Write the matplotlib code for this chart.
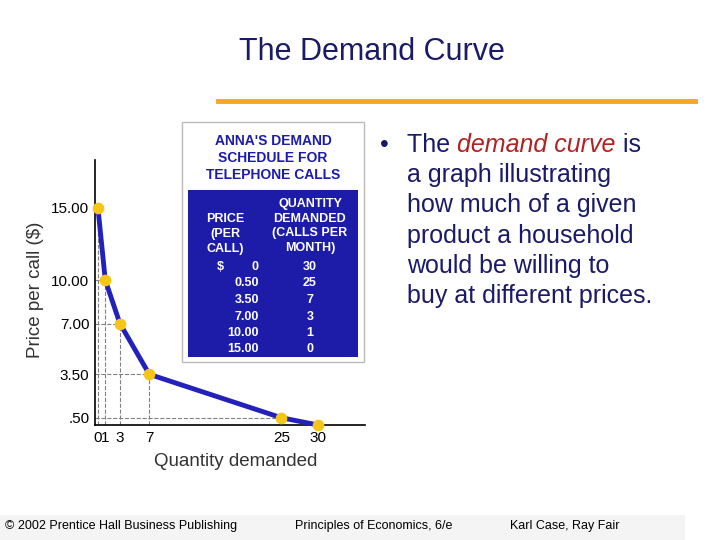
import matplotlib
matplotlib.use("Agg")
import matplotlib.pyplot as plt
from matplotlib.patches import Rectangle

plt.rcParams['font.family'] = ['Liberation Sans', 'DejaVu Sans']

prices = [15.0, 10.0, 7.0, 3.5, 0.5, 0.0]
quantities = [0, 1, 3, 7, 25, 30]
price_labels = ["$        0", "0.50", "3.50", "7.00", "10.00", "15.00"]
qty_labels = ["30", "25", "7", "3", "1", "0"]
yticks = [0.5, 3.5, 7.0, 10.0, 15.0]
ytick_labels = [".50", "3.50", "7.00", "10.00", "15.00"]
xticks = [0, 1, 3, 7, 25, 30]

W, H = 720, 540
fig = plt.figure(figsize=(7.2, 5.4), dpi=100)
fig.patch.set_facecolor("white")
def fx(x): return x / W
def fy(y): return 1 - y / H

fig.text(fx(372), fy(52), "The Demand Curve", ha="center", va="center", fontsize=22, color="#1a1a66")
fig.add_artist(plt.Line2D([fx(218), fx(695)], [fy(101), fy(101)], color="#f5a623", lw=3.5))

# chart axes
ax = fig.add_axes([fx(95), fy(425), fx(365 - 95), (425 - 160) / H])
ax.set_xlim(-0.4, 36.4)
ax.set_ylim(0, 18.3)
for s in ["top", "right"]:
    ax.spines[s].set_visible(False)
ax.spines["left"].set_linewidth(1.2)
ax.spines["bottom"].set_linewidth(1.2)
for q, p in zip(quantities, prices):
    ax.plot([q, q], [0, p], ls="--", color="gray", lw=0.8)
    ax.plot([-0.4, q], [p, p], ls="--", color="gray", lw=0.8)
ax.plot(quantities, prices, color="#2222bb", lw=3.5, clip_on=False, zorder=3)
ax.scatter(quantities, prices, s=55, color="#f5c518", zorder=4, clip_on=False)
ax.set_yticks(yticks)
ax.set_yticklabels(ytick_labels, fontsize=11)
ax.set_xticks(xticks)
ax.set_xticklabels(["0", "1", "3", "7", "25", "30"], fontsize=11)
ax.tick_params(length=0, pad=4)
ax.set_facecolor("none")
fig.text(fx(35), fy(290), "Price per call ($)", rotation=90, ha="center", va="center", fontsize=13.5, color="#333333")
fig.text(fx(236), fy(461), "Quantity demanded", ha="center", va="center", fontsize=13.5, color="#333333")

# table
fig.add_artist(Rectangle((fx(182), fy(362)), fx(182), 240 / H, facecolor="white", edgecolor="#bbbbbb", lw=1))
fig.add_artist(Rectangle((fx(188), fy(357)), fx(170), 167 / H, facecolor="#1c1ca8", edgecolor="none"))
fig.add_artist(Rectangle((fx(188), fy(190)), fx(170), 62 / H, facecolor="white", edgecolor="none"))
fig.text(fx(273), fy(158), "ANNA'S DEMAND\nSCHEDULE FOR\nTELEPHONE CALLS", ha="center", va="center",
         fontsize=10, fontweight="bold", color="#1c1ca8", linespacing=1.3)
fig.text(fx(225), fy(234), "PRICE\n(PER\nCALL)", ha="center", va="center", fontsize=9, fontweight="bold", color="white", linespacing=1.3)
fig.text(fx(310), fy(226), "QUANTITY\nDEMANDED\n(CALLS PER\nMONTH)", ha="center", va="center", fontsize=9, fontweight="bold", color="white", linespacing=1.3)
for i, (pl, ql) in enumerate(zip(price_labels, qty_labels)):
    y = 267 + i * 16.5
    fig.text(fx(259), fy(y), pl, ha="right", va="center", fontsize=9, fontweight="bold", color="white")
    fig.text(fx(310), fy(y), ql, ha="center", va="center", fontsize=9, fontweight="bold", color="white")

# bullet text
lines = ["a graph illustrating", "how much of a given", "product a household", "would be willing to", "buy at different prices."]
fs = 18
fig.text(fx(380), fy(145), "•", ha="left", va="center", fontsize=fs, color="#1a1a66")
t1 = fig.text(fx(407), fy(145), "The ", ha="left", va="center", fontsize=fs, color="#1a1a66")
fig.canvas.draw()
r = fig.canvas.get_renderer()
bb = t1.get_window_extent(r)
t2 = fig.text(bb.x1 / W, fy(145), "demand curve", ha="left", va="center", fontsize=fs, color="#b22222", style="italic")
bb2 = t2.get_window_extent(r)
fig.text(bb2.x1 / W, fy(145), " is", ha="left", va="center", fontsize=fs, color="#1a1a66")
for i, l in enumerate(lines):
    fig.text(fx(407), fy(175 + i * 30.3), l, ha="left", va="center", fontsize=fs, color="#1a1a66")

# footer
fig.add_artist(Rectangle((0, 0), fx(685), 25 / H, facecolor="#f4f4f4", edgecolor="none"))
fig.text(fx(5), fy(526), "© 2002 Prentice Hall Business Publishing", ha="left", va="center", fontsize=9)
fig.text(fx(295), fy(526), "Principles of Economics, 6/e", ha="left", va="center", fontsize=9)
fig.text(fx(510), fy(526), "Karl Case, Ray Fair", ha="left", va="center", fontsize=9)

fig.savefig("out.png", dpi=100)
